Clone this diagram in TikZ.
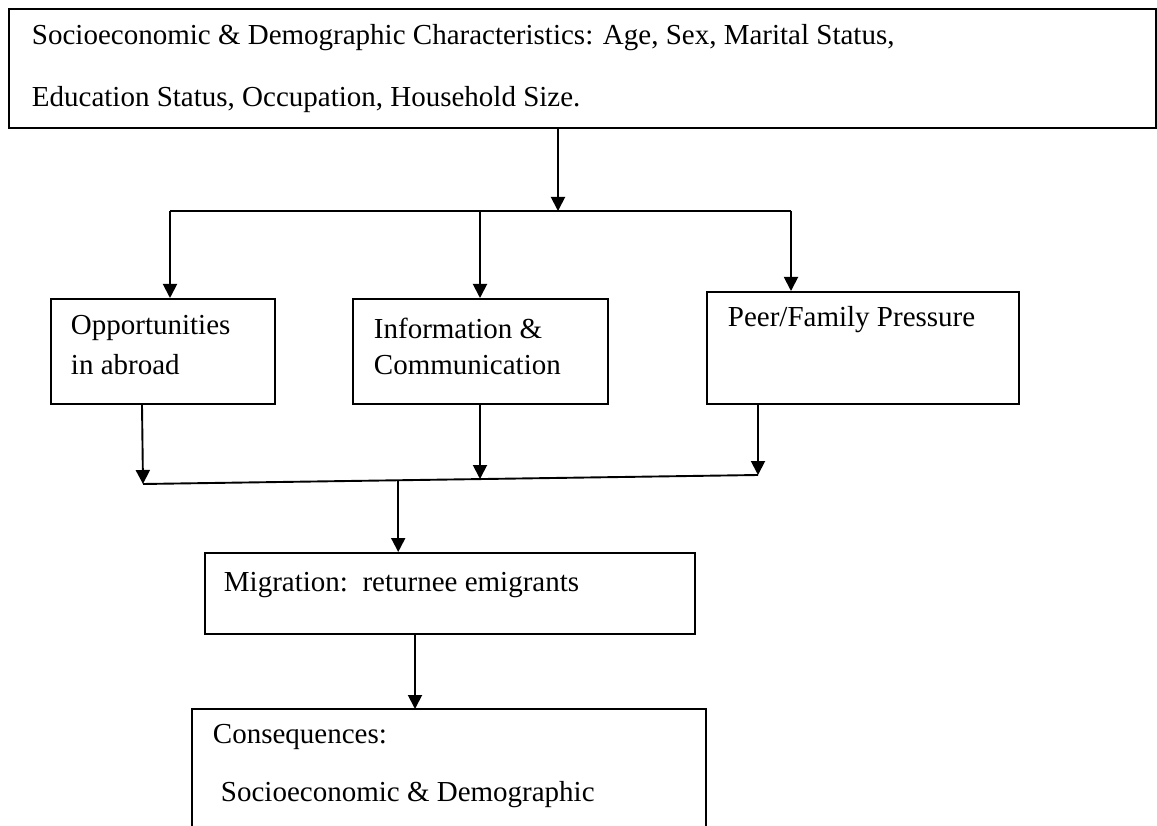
\documentclass[tikz,border=0pt]{standalone}
\usepackage{fontspec}
\setmainfont{Liberation Serif}
\usetikzlibrary{arrows.meta,calc}
\begin{document}
\begin{tikzpicture}[x=1pt,y=-1pt,line width=1.9pt,
  box/.style={draw,line width=1.9pt,inner sep=0pt,anchor=north west},
  txt/.style={font=\fontsize{29}{34}\selectfont,inner sep=0pt,anchor=west},
  arr/.style={-{Triangle[length=14pt,width=14pt]}}]
\useasboundingbox (0,0) rectangle (1157,826);
% boxes
\node[box,minimum width=1147pt,minimum height=119pt] (top) at (8,8) {};
\node[box,minimum width=224pt,minimum height=105pt] (opp) at (50,298) {};
\node[box,minimum width=255pt,minimum height=105pt] (info) at (352,298) {};
\node[box,minimum width=312pt,minimum height=112pt] (peer) at (706,291) {};
\node[box,minimum width=490pt,minimum height=81pt] (migr) at (204,552) {};
\coordinate (cnw) at (192,709);
\coordinate (cne) at (706,709);
\coordinate (csw) at (192,830);
\coordinate (cse) at (706,830);
\draw (csw) -- (cnw) -- (cne) -- (cse);
% texts
\node[txt] (t1) at (31,38) {Socioeconomic \& Demographic Characteristics: Age, Sex, Marital Status,};
\node[txt] (t2) at (31,100) {Education Status, Occupation, Household Size.};
\node[txt] (t3) at (70,328) {Opportunities};
\node[txt] (t4) at (70,365) {in abroad};
\node[txt] (t5) at (373,328) {Information \&};
\node[txt] (t6) at (373,365) {Communication};
\node[txt] (t7) at (727,320) {Peer/Family Pressure};
\node[txt] (t8) at (223,585) {Migration:\ \ returnee emigrants};
\node[txt] (t9) at (212,737) {Consequences:};
\node[txt] (t10) at (220,795) {Socioeconomic \& Demographic};
% upper connectors
\coordinate (j0) at (558,211);
\coordinate (bl) at (170,211);
\coordinate (bm) at (480,211);
\coordinate (br) at (791,211);
\draw[arr] (top.south -| j0) -- (j0);
\draw (bl) -- (br);
\draw[arr] (bl) -- (bl |- opp.north);
\draw[arr] (bm) -- (bm |- info.north);
\draw[arr] (br) -- (br |- peer.north);
% lower connectors
\coordinate (c1) at (143,484);
\coordinate (c2) at (480,479);
\coordinate (c3) at (758,475);
\coordinate (c4) at ($(c1)!0.415!(c3)$);
\draw[arr] ([xshift=-1pt]opp.south -| c1) -- (c1);
\draw[arr] (info.south -| c2) -- (c2);
\draw[arr] (peer.south -| c3) -- (c3);
\draw (c1) -- (c3);
\draw[arr] (c4) -- (c4 |- migr.north);
\coordinate (m1) at (415,709);
\draw[arr] (migr.south -| m1) -- (m1);
\end{tikzpicture}
\end{document}
